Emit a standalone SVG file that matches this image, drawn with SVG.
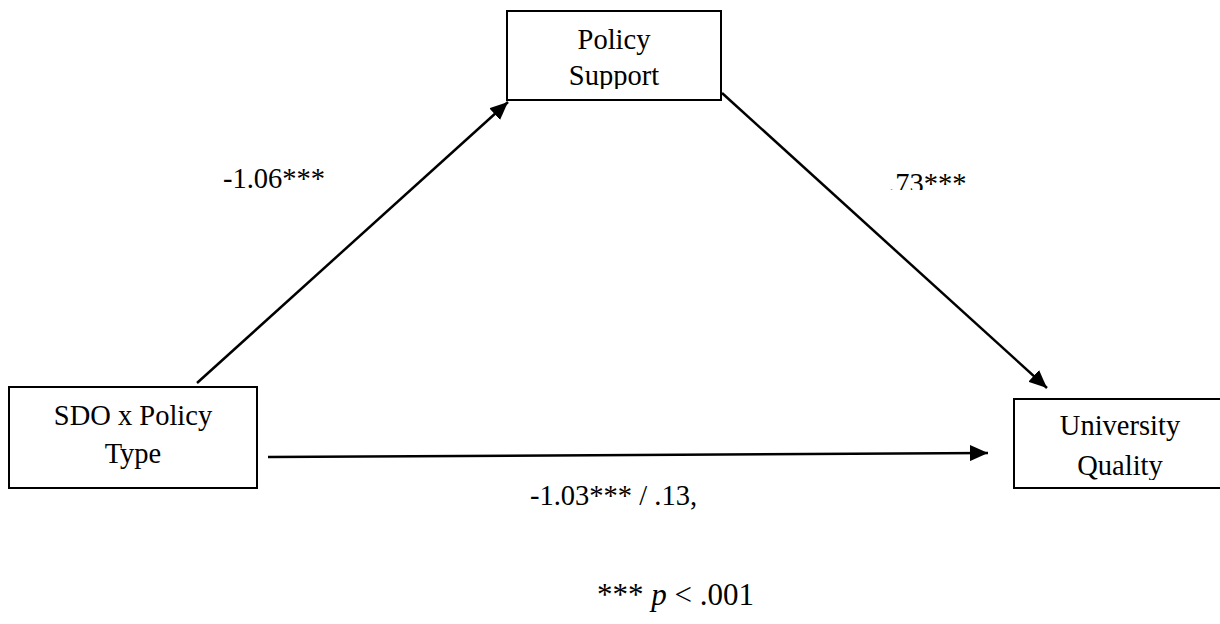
<svg xmlns="http://www.w3.org/2000/svg" width="1220" height="624" viewBox="0 0 1220 624">
  <style>
    .box { fill: #fff; stroke: #000; stroke-width: 2; }
    .lbl { font-family: "Liberation Serif", "Times New Roman", serif; font-size: 28.5px; fill: #000; }
    .edge { stroke: #000; stroke-width: 2.5; fill: none; marker-end: url(#arrow); }
  </style>
  <defs>
    <marker id="arrow" markerUnits="userSpaceOnUse" markerWidth="20" markerHeight="16" refX="18" refY="8" orient="auto">
      <path d="M0,0 L18,8 L0,16 Z" fill="#000"/>
    </marker>
    <clipPath id="clipSupport"><rect x="500" y="0" width="240" height="89"/></clipPath>
    <clipPath id="clipQuality"><rect x="1000" y="390" width="220" height="90"/></clipPath>
    <clipPath id="clip73"><rect x="870" y="150" width="120" height="40"/></clipPath>
  </defs>
  <rect width="1220" height="624" fill="#fff"/>

  <g id="connectors">
    <line class="edge" x1="197" y1="383" x2="508" y2="102"/>
    <line class="edge" x1="722" y1="93" x2="1047" y2="388"/>
    <line class="edge" x1="268" y1="457" x2="988" y2="453"/>
  </g>

  <g id="node-policy-support">
    <rect class="box" x="507" y="11" width="214" height="89"/>
    <text class="lbl" x="614" y="49" text-anchor="middle">Policy</text>
    <text class="lbl" x="614" y="85" text-anchor="middle" clip-path="url(#clipSupport)">Support</text>
  </g>

  <g id="node-sdo">
    <rect class="box" x="9" y="387" width="248" height="101"/>
    <text class="lbl" x="133" y="425" text-anchor="middle">SDO x Policy</text>
    <text class="lbl" x="133" y="463" text-anchor="middle">Type</text>
  </g>

  <g id="node-university">
    <rect class="box" x="1014" y="399" width="210" height="89"/>
    <text class="lbl" x="1120" y="435" text-anchor="middle">University</text>
    <text class="lbl" x="1120" y="475" text-anchor="middle" clip-path="url(#clipQuality)">Quality</text>
  </g>

  <g id="labels">
    <text class="lbl" x="223" y="188">-1.06***</text>
    <text class="lbl" x="888" y="193" clip-path="url(#clip73)">.73***</text>
    <text class="lbl" x="530" y="505">-1.03*** / .13,</text>
    <text class="lbl" x="597" y="605" style="font-size:31px">*** <tspan font-style="italic">p</tspan> &lt; .001</text>
  </g>
</svg>
